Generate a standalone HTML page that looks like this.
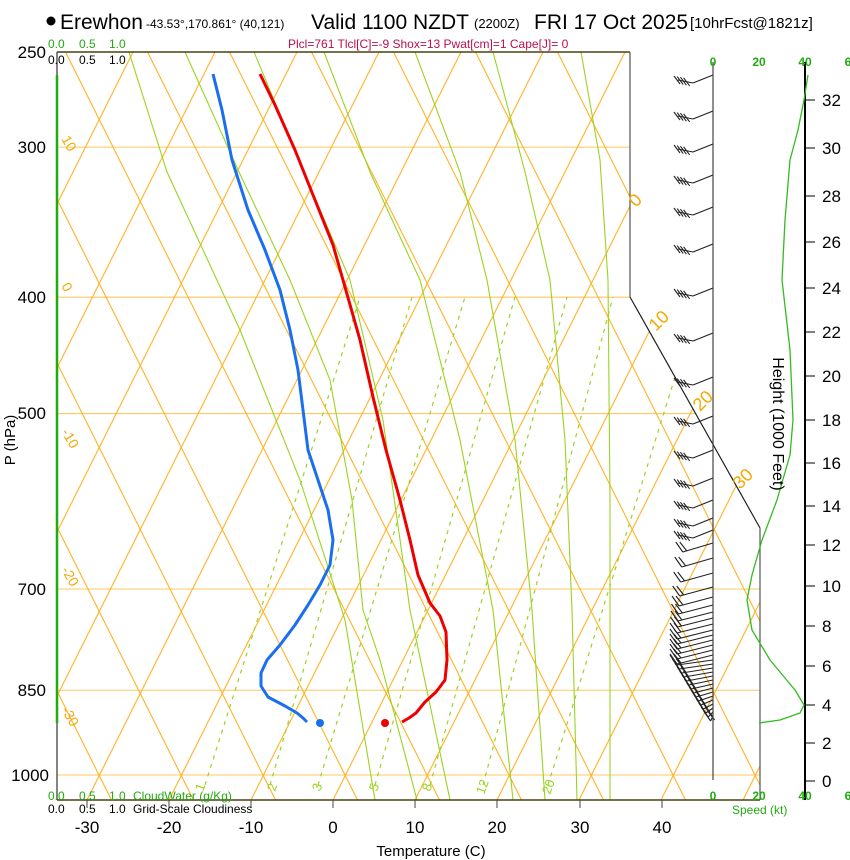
<!DOCTYPE html>
<html><head><meta charset="utf-8"><style>
html,body{margin:0;padding:0;background:#fff;}
svg{display:block;font-family:"Liberation Sans",Arial,sans-serif;}
</style></head><body>
<svg id="s" width="850" height="860" viewBox="0 0 850 860" xmlns="http://www.w3.org/2000/svg">
<defs>
<clipPath id="cp"><polygon points="57,52 630,52 630,297 760,528 760,800 57,800"/></clipPath>
<clipPath id="cpm"><polygon points="57,297 630,297 760,528 760,800 57,800"/></clipPath>
</defs>
<g id="grid" clip-path="url(#cp)"></g>
<g id="moist" clip-path="url(#cp)" fill="none" stroke="#99d420" stroke-width="1.1"></g>
<g id="mix" clip-path="url(#cpm)" fill="none" stroke="#99d420" stroke-width="1.2" stroke-dasharray="4,5"></g>
<g id="barbs" stroke="#222" stroke-width="1.1" fill="none"></g>
<g id="frame"></g>

<!-- profiles -->
<polyline fill="none" stroke="#ee0000" stroke-width="3" stroke-linejoin="round" points="260,74 275,105 295,150 315,200 333,245 343,280 360,340 373,397 386,450 400,500 410,540 418,575 430,603 440,616 446,632 447,660 445,680 436,692 425,702 416,713 409,718 402,722"/>
<polyline fill="none" stroke="#1a6ef0" stroke-width="3" stroke-linejoin="round" points="213,74 222,110 232,160 248,210 265,250 280,290 290,330 298,370 303,410 308,450 318,480 328,510 333,540 330,565 320,585 308,605 295,625 280,645 267,660 261,673 261,686 268,697 285,706 297,713 303,718 307,722"/>
<circle cx="320" cy="723" r="4" fill="#1a6ef0"/>
<circle cx="385" cy="723" r="4" fill="#ee0000"/>

<!-- speed curve -->
<polyline fill="none" stroke="#33bb22" stroke-width="1.3" stroke-linejoin="round" points="808,75 804,100 798,130 790,160 785,220 782,280 790,350 793,420 790,455 777,500 762,540 752,575 747,600 752,630 770,660 795,690 804,705 800,713 780,720 759,723"/>

<!-- Titles -->
<circle cx="51" cy="21" r="4.5" fill="#000"/>
<text x="60" y="29" font-size="21">Erewhon</text>
<text x="146" y="28" font-size="12">-43.53°,170.861° (40,121)</text>
<text x="311" y="29" font-size="21">Valid 1100 NZDT</text>
<text x="474" y="28" font-size="13">(2200Z)</text>
<text x="534" y="29" font-size="21">FRI 17 Oct 2025</text>
<text x="690" y="28" font-size="15">[10hrFcst@1821z]</text>
<text x="288" y="48" font-size="12" fill="#b8104e">Plcl=761 Tlcl[C]=-9 Shox=13 Pwat[cm]=1 Cape[J]= 0</text>

<g font-size="12" fill="#22aa11"><text x="48" y="48">0.0</text><text x="79" y="48">0.5</text><text x="109" y="48">1.0</text>
<text x="48" y="800">0.0</text><text x="79" y="800">0.5</text><text x="109" y="800">1.0</text><text x="133" y="800">CloudWater (g/Kg)</text></g>
<g font-size="12" fill="#000"><text x="48" y="64">0.0</text><text x="79" y="64">0.5</text><text x="109" y="64">1.0</text>
<text x="48" y="813">0.0</text><text x="79" y="813">0.5</text><text x="109" y="813">1.0</text><text x="133" y="813">Grid-Scale Cloudiness</text></g>

<!-- pressure labels -->
<g font-size="17" text-anchor="end"><text x="46" y="58">250</text><text x="46" y="153">300</text><text x="46" y="303">400</text><text x="46" y="419">500</text><text x="46" y="595">700</text><text x="46" y="696">850</text><text x="49" y="781">1000</text></g>
<text transform="translate(15,440) rotate(-90)" font-size="15" text-anchor="middle">P (hPa)</text>

<!-- temperature labels -->
<g font-size="17" text-anchor="middle"><text x="87" y="833">-30</text><text x="169" y="833">-20</text><text x="251" y="833">-10</text><text x="333" y="833">0</text><text x="415" y="833">10</text><text x="497" y="833">20</text><text x="580" y="833">30</text><text x="662" y="833">40</text></g>
<text x="431" y="856" font-size="15" text-anchor="middle">Temperature (C)</text>

<!-- adiabat labels -->
<g font-size="14" fill="#f5a800">
<text transform="translate(61,139) rotate(60)">10</text>
<text transform="translate(61,286) rotate(60)">0</text>
<text transform="translate(61,432) rotate(60)">-10</text>
<text transform="translate(61,570) rotate(60)">-20</text>
<text transform="translate(61,710) rotate(60)">-30</text>
</g>
<g font-size="18" fill="#f5a800">
<text transform="translate(636,208) rotate(-45)">0</text>
<text transform="translate(656,332) rotate(-45)">10</text>
<text transform="translate(700,412) rotate(-45)">20</text>
<text transform="translate(740,490) rotate(-45)">30</text>
</g>
<g font-size="13" fill="#99d420">
<text transform="translate(203,792) rotate(-70)">1</text>
<text transform="translate(275,792) rotate(-70)">2</text>
<text transform="translate(320,792) rotate(-70)">3</text>
<text transform="translate(377,792) rotate(-70)">5</text>
<text transform="translate(430,792) rotate(-70)">8</text>
<text transform="translate(484,795) rotate(-70)">12</text>
<text transform="translate(550,795) rotate(-70)">20</text>
</g>

<!-- speed axis labels -->
<g font-size="12" fill="#22aa11" font-weight="bold" text-anchor="middle">
<text x="713" y="66">0</text><text x="759" y="66">20</text><text x="805" y="66">40</text><text x="848" y="66">6</text>
<text x="713" y="800">0</text><text x="759" y="800">20</text><text x="805" y="800">40</text><text x="848" y="800">6</text>
</g>
<text x="732" y="814" font-size="12" fill="#22aa11">Speed (kt)</text>
<g id="hax" font-size="17"></g>
<text transform="translate(773,424) rotate(90)" font-size="16" text-anchor="middle">Height (1000 Feet)</text>
</svg>
<script>
var NS="http://www.w3.org/2000/svg";
function L(g,x1,y1,x2,y2,c,w,extra){var e=document.createElementNS(NS,"line");e.setAttribute("x1",x1);e.setAttribute("y1",y1);e.setAttribute("x2",x2);e.setAttribute("y2",y2);if(c)e.setAttribute("stroke",c);if(w)e.setAttribute("stroke-width",w);if(extra)for(var k in extra)e.setAttribute(k,extra[k]);document.getElementById(g).appendChild(e);}
function P(g,pts){var e=document.createElementNS(NS,"polyline");e.setAttribute("points",pts.map(function(p){return p.join(",")}).join(" "));document.getElementById(g).appendChild(e);}
var OR="#ffb326";
// horizontal pressure lines
[300,400,500,700,850,1000].forEach(function(p){var y=775-521.5*Math.log(1000/p);L("grid",57,y,760,y,"#ffc860",1.1);});
// isotherms
for(var T=-140;T<=60;T+=10){var xb=333+8.2*T;L("grid",xb,800,xb+0.5*760,40,OR,1.1);}
// dry adiabats
for(var n=-6;n<=14;n++){var xb=99+82*n;L("grid",xb+0.5*25,800,xb-0.5*735,40,OR,1.1);}
// moist adiabats
var M=[
[[129,52],[167,172],[240,330],[300,480],[345,620],[375,800]],
[[185,52],[239,172],[290,280],[330,380],[352,500],[363,610],[380,660],[417,800]],
[[254,52],[304,172],[350,280],[383,420],[410,610],[450,800]],
[[324,52],[370,172],[420,280],[460,440],[493,610],[513,800]],
[[415,52],[460,172],[487,280],[515,440],[532,610],[545,800]],
[[493,52],[525,172],[550,280],[565,440],[572,610],[577,800]],
[[581,52],[600,160],[608,280],[610,500],[610,800]]];
M.forEach(function(m){P("moist",m);});
// mixing ratio
var mb=[205,270,318,375,430,483,548],mt=[360,412,465,515,567,613,700];
for(var i=0;i<mb.length;i++){L("mix",mb[i],785,mt[i],297);}
// frame
L("frame",57,52,630,52,"#4a4010",1.5);
L("frame",57,800,760,800,"#4a4010",1.5);
L("frame",57,52,57,800,"#333",1.2);
L("frame",57,75,57,723,"#22aa11",2.5);
L("frame",630,52,630,297,"#555",1.2);
L("frame",630,297,760,528,"#222",1.2);
L("frame",760,528,760,800,"#555",1.2);
L("frame",713,62,713,780,"#444",1.2);
L("frame",805,62,805,800,"#000",2);
[87,169,251,333,415,497,580,662].forEach(function(x){L("frame",x,800,x,808,"#444",1);});
// height axis
var H={32:100,30:148,28:196,26:242,24:288,22:332,20:376,18:420,16:463,14:506,12:545,10:586,8:626,6:666,4:705,2:743,0:781};
var hg=document.getElementById("hax");
for(var k in H){L("frame",805,H[k],815,H[k],"#000",1);var t=document.createElementNS(NS,"text");t.setAttribute("x",822);t.setAttribute("y",H[k]+6);t.textContent=k;hg.appendChild(t);}
// upper barbs
[75,111,144,175,207,244,288,333,377,416,450,478,500,518,530].forEach(function(y){
 var ex=693,ey=y+8;L("barbs",713,y,ex,ey);
 L("barbs",ex,ey,678,ey-3);
 for(var j=0;j<4;j++){var bx=680+j*3.2,by=ey-3+j*0.6;L("barbs",bx,by+4,bx-6,by-4);}
});
// lower barbs
var ys=[543,558,573,587,597,605,612,618,624,630,635,640,645,650,655,660,664,668,672,676,680,684,688,692,696,700,704,708,712,716];
ys.forEach(function(y){
 var left;
 if(y<620)left=683-(y-540)*0.07;else if(y<660)left=677;else left=677+(y-660)*0.6;
 var ex=left,ey=y+ (y<660?9:5);
 L("barbs",713,y,ex,ey);
 L("barbs",ex,ey,ex-7,ey-10);
 L("barbs",ex+4,ey-1,ex-3,ey-10);
});
</script>
</body></html>
